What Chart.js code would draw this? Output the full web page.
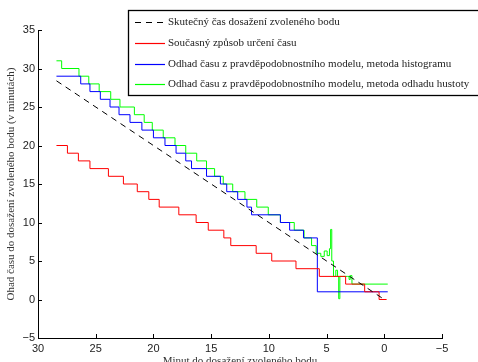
<!DOCTYPE html>
<html>
<head>
<meta charset="utf-8">
<script src="https://cdn.jsdelivr.net/npm/chart.js@4.4.1/dist/chart.umd.min.js"></script>
<style>
  body { margin: 0; background: #fff; }
  canvas { display: block; }
</style>
</head>
<body>
<canvas id="chart" width="478" height="362"></canvas>
<script>
/*_____________________DATA____________________*/

// minutes to reach the point (x) and estimated time (y), step series
const realT = [28.4, 0];
const realV = [28.4, 0];

const redT = [28.4, 27.45, 26.5, 25.5, 23.9, 22.6, 21.4, 20.4, 19.5, 17.8, 16.3, 15.25,
              13.9, 13.3, 11.1, 9.75, 7.65, 5.63, 3.35, 1.7, 0.45, -0.2];
const redV = [20, 19, 18, 17, 16, 15, 14, 13, 12, 11, 10, 9,
              8, 7, 6, 5, 4, 3, 2, 1, 0, 0];

const blueT = [28.4, 26.3, 25.5, 24.6, 23.76, 22.98, 22.03, 21.0, 20.0, 19.0, 18.04, 17.2,
               16.7, 15.4, 14.2, 13.65, 12.7, 11.9, 11.5, 9.0, 8.2, 7.0, 5.8, -0.3];
const blueV = [29, 28, 27, 26, 25, 24, 23, 22, 21, 20, 19, 18,
               17, 16, 15, 14, 13, 12, 11, 10, 9, 8, 1, 1];

const greenT = [28.4, 27.95, 26.45, 25.6, 24.7, 23.7, 22.9, 21.65, 20.8, 20.1, 19.15, 18.13,
                17.2, 16.25, 15.4, 14.7, 13.95, 13.13, 12.07, 11.05, 10.05, 9.0, 7.8, 6.95,
                6.3, 5.9, 5.5, 5.2, 4.95, 4.75, 4.65, 4.55, 4.4, 4.2, 4.05, 3.95,
                3.85, 3.2, 3.05, 2.95, 2.8, -0.3];
const greenV = [31, 30, 29, 28, 27, 26, 25, 24, 23, 22, 21, 20,
                19, 18, 17, 16, 15, 14, 13, 12, 11, 10, 9, 8,
                7, 6, 5.6, 6.3, 5.7, 6.6, 9.1, 5, 3, 3.8, 3, 0.1,
                3, 3, 2.6, 3.1, 2, 2];

const labels = [
  'Skutečný čas dosažení zvoleného bodu',
  'Současný způsob určení času',
  'Odhad času z pravděpodobnostního modelu, metoda histogramu',
  'Odhad času z pravděpodobnostního modelu, metoda odhadu hustoty'
];
const colors = ['#000000', '#ff0000', '#0000ff', '#00ff00'];
const xTitle = 'Minut do dosažení zvoleného bodu';
const yTitle = 'Ohad času do dosažení zvoleného bodu (v minutách)';

const pts = (t, v) => t.map((x, i) => ({x: x, y: v[i]}));
const minus = v => String(v).replace('-', '\u2212');

/*_____________________FRAME_PLUGIN____________________*/

const frame = {
  id: 'frame',
  afterDraw(chart) {
    const {ctx} = chart;
    const xs = chart.scales.x, ys = chart.scales.y;
    ctx.save();

    // ticks pointing inward
    ctx.strokeStyle = '#000';
    ctx.lineWidth = 1;
    ctx.beginPath();
    xs.ticks.forEach(t => {
      const px = Math.round(xs.getPixelForValue(t.value)) + 0.5;
      ctx.moveTo(px, ys.bottom);
      ctx.lineTo(px, ys.bottom - 4);
    });
    ys.ticks.forEach(t => {
      const py = Math.round(ys.getPixelForValue(t.value)) + 0.5;
      ctx.moveTo(xs.left, py);
      ctx.lineTo(xs.left + 4, py);
    });
    ctx.stroke();

    // axis titles
    ctx.fillStyle = '#333';
    ctx.font = '11px "Liberation Serif", serif';
    ctx.textAlign = 'center';
    ctx.textBaseline = 'alphabetic';
    ctx.fillText(xTitle, (xs.left + xs.right) / 2, 364);
    ctx.save();
    ctx.translate(14, (ys.top + ys.bottom) / 2);
    ctx.rotate(-Math.PI / 2);
    ctx.fillText(yTitle, 0, 0);
    ctx.restore();

    // legend box
    const bx = 128.5, by = 10.5, bw = 360, bh = 85;
    ctx.fillStyle = '#fff';
    ctx.fillRect(bx, by, bw, bh);
    ctx.lineWidth = 1.3;
    ctx.strokeStyle = '#000';
    ctx.strokeRect(bx, by, bw, bh);

    ctx.textAlign = 'left';
    ctx.textBaseline = 'middle';
    chart.data.datasets.forEach((ds, i) => {
      const y = Math.round(22 + i * 20.8) + 0.5;
      ctx.beginPath();
      ctx.strokeStyle = colors[i];
      ctx.lineWidth = 1.2;
      ctx.setLineDash(i === 0 ? [6, 5] : []);
      ctx.moveTo(135, y);
      ctx.lineTo(165, y);
      ctx.stroke();
      ctx.setLineDash([]);
      ctx.fillStyle = '#222';
      ctx.fillText(ds.label, 168, y);
    });
    ctx.restore();
  }
};

/*_____________________CHART____________________*/

const tickFont = {family: '"Liberation Sans", Arial, sans-serif', size: 11};

new Chart(document.getElementById('chart'), {
  type: 'line',
  data: {
    datasets: [
      {label: labels[0], data: pts(realT, realV), borderColor: colors[0], borderDash: [6, 5]},
      {label: labels[1], data: pts(redT, redV), borderColor: colors[1], stepped: true},
      {label: labels[2], data: pts(blueT, blueV), borderColor: colors[2], stepped: true},
      {label: labels[3], data: pts(greenT, greenV), borderColor: colors[3], stepped: true}
    ]
  },
  options: {
    responsive: false,
    animation: false,
    layout: {padding: {top: 30, right: 36, left: 0, bottom: 0}},
    elements: {point: {radius: 0}, line: {borderWidth: 1, tension: 0, fill: false}},
    plugins: {legend: {display: false}, tooltip: {enabled: false}},
    scales: {
      x: {
        type: 'linear', reverse: true, min: -5, max: 30,
        grid: {display: false, drawTicks: false},
        border: {display: true, color: '#000', width: 1},
        ticks: {stepSize: 5, maxRotation: 0, padding: 4, font: tickFont, color: '#222', callback: minus},
        afterFit: s => { s.height = 24; }
      },
      y: {
        type: 'linear', min: -5, max: 35,
        grid: {display: false, drawTicks: false},
        border: {display: true, color: '#000', width: 1},
        ticks: {stepSize: 5, padding: 3, font: tickFont, color: '#222', callback: minus},
        afterFit: s => { s.width = 38; }
      }
    }
  },
  plugins: [frame]
});
</script>
</body>
</html>
